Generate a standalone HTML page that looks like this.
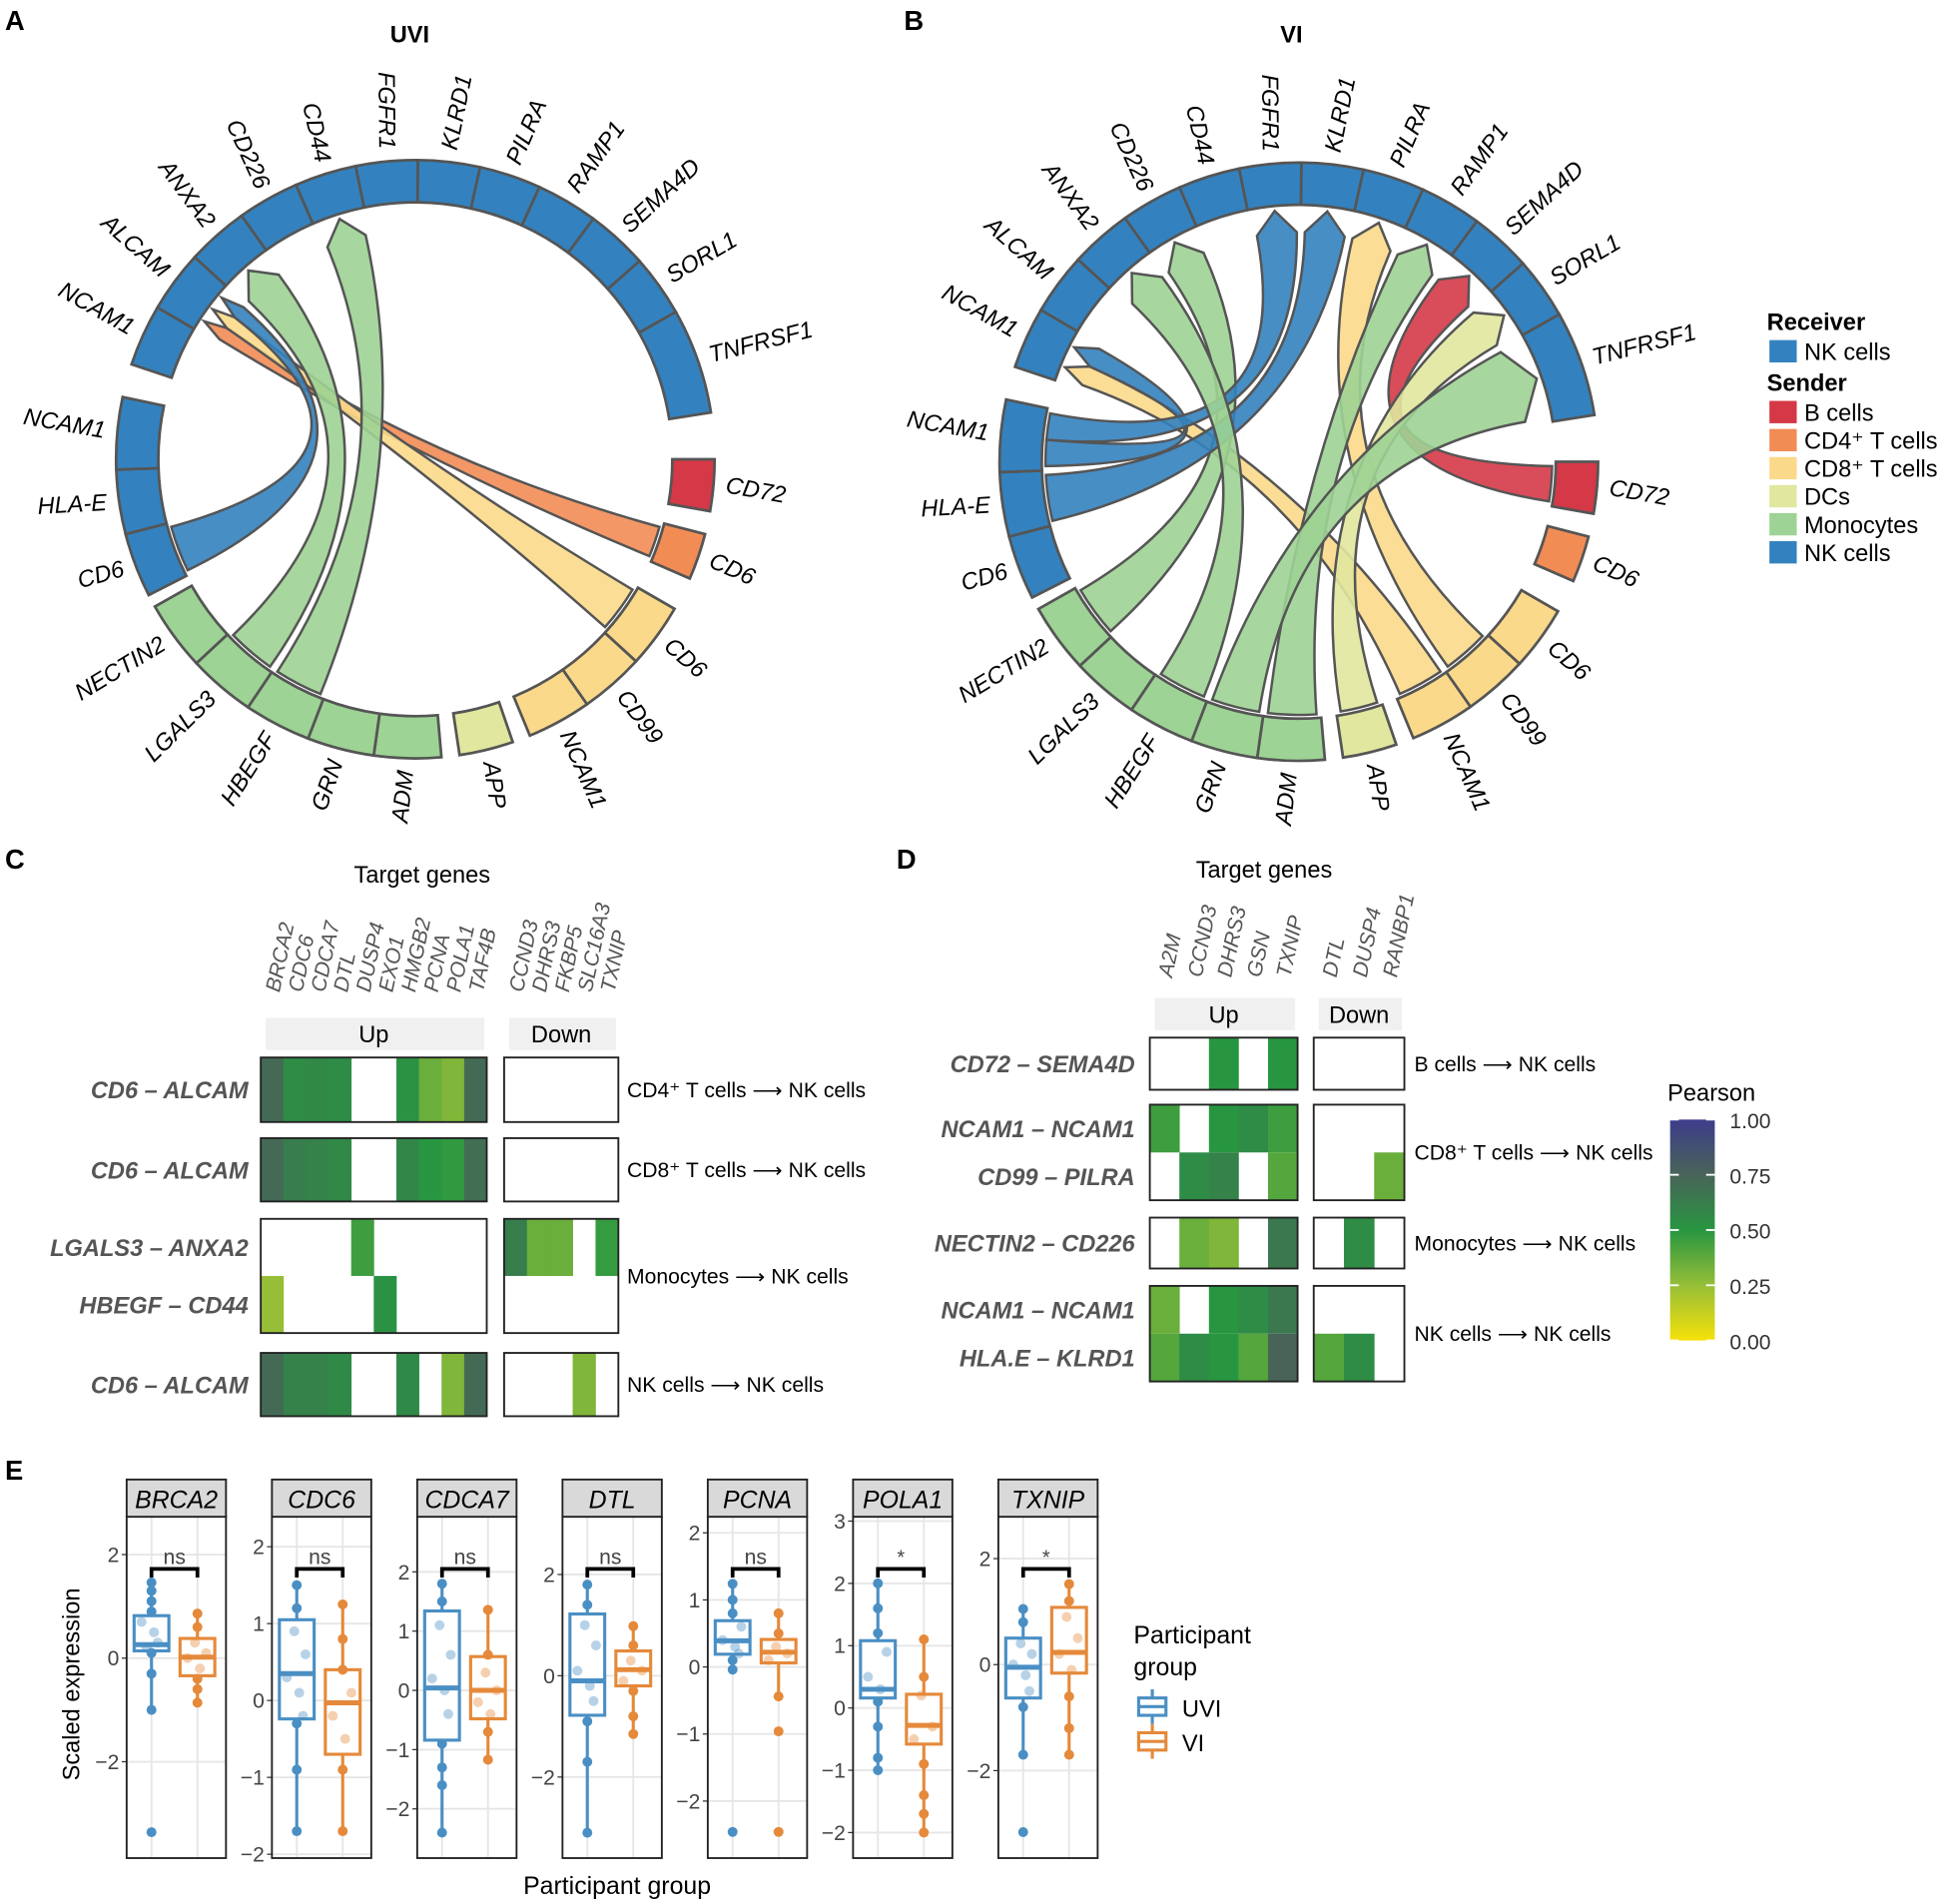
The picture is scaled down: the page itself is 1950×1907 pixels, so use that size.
<!DOCTYPE html>
<html><head><meta charset="utf-8"><style>
html,body{margin:0;padding:0;background:#fff}
svg{display:block;font-family:"Liberation Sans",Arial,sans-serif}
</style></head><body>
<svg id="fig" xmlns="http://www.w3.org/2000/svg" width="1950" height="1907" viewBox="0 0 1568 1534" preserveAspectRatio="none">
<rect width="1568" height="1534" fill="#fff"/>
<g font-weight="bold" font-size="22" fill="#000">
<text x="4" y="24">A</text>
<text x="728" y="24">B</text>
<text x="4" y="700">C</text>
<text x="722" y="700">D</text>
<text x="4" y="1192">E</text>
</g>
<text x="330" y="34" font-size="19" font-weight="bold" text-anchor="middle">UVI</text>
<text x="1040" y="34" font-size="19" font-weight="bold" text-anchor="middle">VI</text>
<g id="chordA"></g>
<g id="chordB"></g>
<g id="legend"></g>
<g id="heatC"></g>
<g id="heatD"></g>
<g id="colorbar"></g>
<g id="boxE"></g>
</svg>
<script>
// ---------- chord data ----------
const segNames=["NCAM1","ALCAM","ANXA2","CD226","CD44","FGFR1","KLRD1","PILRA","RAMP1","SEMA4D","SORL1","TNFRSF1","CD72","CD6","CD6","CD99","NCAM1","APP","ADM","GRN","HBEGF","LGALS3","NECTIN2","CD6","HLA-E","NCAM1"];
const segCell=["NK","NK","NK","NK","NK","NK","NK","NK","NK","NK","NK","NK","B","CD4","CD8","CD8","CD8","DC","Mono","Mono","Mono","Mono","Mono","NK","NK","NK"];
const cellColor={NK:"#3382bf",B:"#d53847",CD4:"#f28c55",CD8:"#fbd98a",DC:"#e1e79e",Mono:"#9dd394"};
const segA0=[-71.5,-59.5,-47.5,-35.5,-23.5,-11.5,0.5,12.5,24.5,36.5,48.5,60.5, 90,104.5, 120,132.5,145, 161, 175,188,201,214,227, 243,255.5,268];
const segA1=[-59.5,-47.5,-35.5,-23.5,-11.5,0.5,12.5,24.5,36.5,48.5,60.5,81, 100,113.5, 132.5,145,157.5, 171.5, 188,201,214,227,240.5, 255.5,268,282];
// chords: sender segment index -> receiver segment index
const chordsA_from=[13,14,23,21,20];
const chordsA_to=[1,1,1,2,4];
const chordsB_from=[12,16,15,22,25,24,25,17,18,19,20];
const chordsB_to=[9,0,7,3,0,6,5,10,8,11,2];

const NS="http://www.w3.org/2000/svg";
function mk(tag,attrs,parent){const e=document.createElementNS(NS,tag);for(const k in attrs)e.setAttribute(k,attrs[k]);if(parent)parent.appendChild(e);return e;}
function pt(cx,cy,r,a){const t=a*Math.PI/180;return [cx+r*Math.sin(t),cy-r*Math.cos(t)];}
const R0=207,R1=241;
function drawChord(gid,cx,cy,from,to){
  const g=document.getElementById(gid);
  // segments
  segNames.forEach((n,i)=>{
    const a0=segA0[i],a1=segA1[i];
    const p0=pt(cx,cy,R1,a0),p1=pt(cx,cy,R1,a1),q1=pt(cx,cy,R0,a1),q0=pt(cx,cy,R0,a0);
    const large=(a1-a0)>180?1:0;
    const s=mk("path",{d:`M${p0}A${R1},${R1} 0 ${large} 1 ${p1}L${q1}A${R0},${R0} 0 ${large} 0 ${q0}Z`,fill:cellColor[segCell[i]],stroke:"#555","stroke-width":2.2},g);
    
    
    const am=(a0+a1)/2;let an=((am%360)+360)%360;
    const lp=pt(cx,cy,R1+10,am);
    let rot,anchor;
    if(an<180){rot=an-85;anchor="start";}else{rot=an-265;anchor="end";}
    const t=mk("text",{x:lp[0],y:lp[1],"font-size":19,"font-style":"italic","text-anchor":anchor,"dominant-baseline":"middle",transform:`rotate(${rot} ${lp[0]} ${lp[1]})`},g);
    t.textContent=n;
    
    
  });
  // allocate sub-ranges
  const cnt={},used={};
  from.forEach((f,k)=>{cnt[f]=(cnt[f]||0)+1;cnt[to[k]]=(cnt[to[k]]||0)+1;});
  function slot(s){const i=used[s]||0;used[s]=i+1;const a0=segA0[s]+1,a1=segA1[s]-1;const w=(a1-a0)/cnt[s];return [a0+i*w,a0+(i+1)*w];}
  from.forEach((f,k)=>{
    const [s0,s1]=slot(f),[t0,t1]=slot(to[k]);
    const r=R0-3,rt=R0-22;
    const A0=pt(cx,cy,r,s0),A1=pt(cx,cy,r,s1),B0=pt(cx,cy,rt,t0),B1=pt(cx,cy,rt,t1),Bt=pt(cx,cy,R0-4,(t0+t1)/2);
    const c=[cx,cy];
    const d=`M${A0}A${r},${r} 0 0 1 ${A1}Q${c} ${B0}L${Bt}L${B1}Q${c} ${A0}Z`;
    const p=mk("path",{d,fill:cellColor[segCell[f]],"fill-opacity":0.9,stroke:"#555","stroke-width":2},g);
    
    
  });
}
drawChord("chordA",334.5,370,chordsA_from,chordsA_to);
drawChord("chordB",1046,372,chordsB_from,chordsB_to);

// ---------- legend ----------
const legNames=["B cells","CD4⁺ T cells","CD8⁺ T cells","DCs","Monocytes","NK cells"];
const legKeys=["B","CD4","CD8","DC","Mono","NK"];
(function(){
  const g=document.getElementById("legend");
  let t=mk("text",{x:1423,y:266,"font-size":19,"font-weight":"bold"},g);t.textContent="Receiver";
  
  mk("rect",{x:1425,y:274,width:22,height:18,fill:cellColor.NK},g);
  t=mk("text",{x:1453,y:290,"font-size":19},g);t.textContent="NK cells";
  t=mk("text",{x:1423,y:315,"font-size":19,"font-weight":"bold"},g);t.textContent="Sender";
  
  legNames.forEach((n,i)=>{
    const y=323+i*22.6;
    const r=mk("rect",{x:1425,y:y,width:22,height:18,fill:cellColor[legKeys[i]]},g);
    
    
    const tt=mk("text",{x:1453,y:y+16,"font-size":19},g);tt.textContent=n;
    
    
  });
})();

// ---------- heatmap color ----------
const cStops=[0,0.25,0.5,0.75,1];
const cCols=[[245,225,10],[150,190,55],[40,150,65],[72,100,88],[62,60,140]];
function pc(v){let i=0;while(i<3&&v>cStops[i+1])i++;const f=(v-cStops[i])/(cStops[i+1]-cStops[i]);const a=cCols[i],b=cCols[i+1];return `rgb(${a.map((x,k)=>Math.round(x+(b[k]-x)*f)).join(",")})`;}

// ---------- panel C data ----------
const cUpGenes=["BRCA2","CDC6","CDCA7","DTL","DUSP4","EXO1","HMGB2","PCNA","POLA1","TAF4B"];
const cDownGenes=["CCND3","DHRS3","FKBP5","SLC16A3","TXNIP"];
const cRowNames=["CD6 – ALCAM","CD6 – ALCAM","LGALS3 – ANXA2","HBEGF – CD44","CD6 – ALCAM"];
const cUp=[[.72,.55,.57,.55,null,null,.52,.35,.3,.72],[.72,.62,.6,.57,null,null,.58,.5,.48,.7],[null,null,null,null,.45,null,null,null,null,null],[.25,null,null,null,null,.52,null,null,null,null],[.72,.6,.6,.56,null,null,.56,null,.3,.72]];
const cDown=[[null,null,null,null,null],[null,null,null,null,null],[.62,.35,.35,null,.47],[null,null,null,null,null],[null,null,null,.3,null]];
const cGroups=[[0],[1],[2,3],[4]];
const cPairs=["CD4⁺ T cells","CD8⁺ T cells","Monocytes","NK cells"];

// ---------- panel D data ----------
const dUpGenes=["A2M","CCND3","DHRS3","GSN","TXNIP"];
const dDownGenes=["DTL","DUSP4","RANBP1"];
const dRowNames=["CD72 – SEMA4D","NCAM1 – NCAM1","CD99 – PILRA","NECTIN2 – CD226","NCAM1 – NCAM1","HLA.E – KLRD1"];
const dUp=[[null,null,.5,null,.5],[.45,null,.5,.55,.45],[null,.55,.6,null,.4],[null,.35,.3,null,.65],[.35,null,.5,.55,.65],[.4,.55,.5,.4,.75]];
const dDown=[[null,null,null],[null,null,null],[null,null,.35],[null,.55,null],[null,null,null],[.4,.55,null]];
const dGroups=[[0],[1,2],[3],[4,5]];
const dPairs=["B  cells","CD8⁺ T cells","Monocytes","NK cells"];

function drawHeat(gid,L){
  const g=document.getElementById(gid);
  let t=mk("text",{x:L.titleX,y:L.titleY,"font-size":19,"text-anchor":"middle"},g);t.textContent="Target genes";
  
  const uw=(L.up[1]-L.up[0])/L.upGenes.length,dw=(L.dn[1]-L.dn[0])/L.dnGenes.length;
  [[L.upGenes,L.up[0],uw],[L.dnGenes,L.dn[0],dw]].forEach(([gs,x0,w])=>gs.forEach((n,i)=>{
    const x=x0+w*(i+0.5)+6,y=L.gy;
    const tt=mk("text",{x,y,"font-size":17,"font-style":"italic",fill:"#555",transform:`rotate(-78 ${x} ${y})`},g);tt.textContent=n;
    
  }));
  mk("rect",{x:L.up[0]+4,y:L.sy,width:L.up[1]-L.up[0]-6,height:26,fill:"#f0f0f0"},g);
  mk("rect",{x:L.dn[0]+4,y:L.sy,width:L.dn[1]-L.dn[0]-6,height:26,fill:"#f0f0f0"},g);
  t=mk("text",{x:(L.up[0]+L.up[1])/2,y:L.sy+20,"font-size":19,"text-anchor":"middle"},g);t.textContent="Up";
  t=mk("text",{x:(L.dn[0]+L.dn[1])/2,y:L.sy+20,"font-size":19,"text-anchor":"middle"},g);t.textContent="Down";
  L.groups.forEach((grp,gi)=>{
    const [y0,y1]=L.boxY[gi];const rh=(y1-y0)/grp.length;
    grp.forEach((ri,k)=>{
      const ry=y0+k*rh;
      L.upV[ri].forEach((v,ci)=>{if(v===null)return;const r=mk("rect",{x:L.up[0]+ci*uw,y:ry,width:uw+0.3,height:rh,fill:pc(v)},g);
        });
      L.dnV[ri].forEach((v,ci)=>{if(v===null)return;const r=mk("rect",{x:L.dn[0]+ci*dw,y:ry,width:dw+0.3,height:rh,fill:pc(v)},g);
        });
      const lt=mk("text",{x:L.labX,y:ry+rh/2+7,"font-size":19,"font-weight":"bold","font-style":"italic",fill:"#555","text-anchor":"end"},g);lt.textContent=L.rows[ri];
      
    });
    mk("rect",{x:L.up[0],y:y0,width:L.up[1]-L.up[0],height:y1-y0,fill:"none",stroke:"#222","stroke-width":1.5},g);
    mk("rect",{x:L.dn[0],y:y0,width:L.dn[1]-L.dn[0],height:y1-y0,fill:"none",stroke:"#222","stroke-width":1.5},g);
    const pt2=mk("text",{x:L.pairX,y:(y0+y1)/2+6,"font-size":17},g);pt2.textContent=L.pairs[gi]+" ⟶ NK cells";
    
  });
}
drawHeat("heatC",{titleX:340,titleY:711,gy:800,sy:820,up:[210,392],dn:[406,498],upGenes:cUpGenes,dnGenes:cDownGenes,upV:cUp,dnV:cDown,rows:cRowNames,groups:cGroups,boxY:[[852,904],[917,968],[982,1074],[1090,1141]],labX:200,pairX:505,pairs:cPairs});
drawHeat("heatD",{titleX:1018,titleY:707,gy:788,sy:804,up:[926,1045],dn:[1058,1131],upGenes:dUpGenes,dnGenes:dDownGenes,upV:dUp,dnV:dDown,rows:dRowNames,groups:dGroups,boxY:[[836,878],[890,967],[981,1022],[1036,1113]],labX:914,pairX:1139,pairs:dPairs});

// colorbar
(function(){
  const g=document.getElementById("colorbar");
  const defs=mk("defs",{},g);const lg=mk("linearGradient",{id:"pg",x1:0,y1:1,x2:0,y2:0},defs);
  cStops.forEach((s,i)=>mk("stop",{offset:s,"stop-color":`rgb(${cCols[i].join(",")})`},lg));
  let t=mk("text",{x:1343,y:887,"font-size":19},g);t.textContent="Pearson";
  mk("rect",{x:1345,y:902,width:36,height:178,fill:"url(#pg)"},g);
  const cbTicks=[0,0.25,0.5,0.75,1];
  cbTicks.forEach(v=>{const y=1080-v*178;mk("line",{x1:1345,x2:1352,y1:y,y2:y,stroke:"#fff","stroke-width":1.5},g);mk("line",{x1:1374,x2:1381,y1:y,y2:y,stroke:"#fff","stroke-width":1.5},g);
    const tt=mk("text",{x:1393,y:y+7,"font-size":17,fill:"#333"},g);tt.textContent=v.toFixed(2);
    });
})();

// ---------- panel E data ----------
const eGenes=["BRCA2","CDC6","CDCA7","DTL","PCNA","POLA1","TXNIP"];
const eYMin=[-3.86,-2.05,-2.83,-3.6,-2.85,-2.41,-3.65];
const eYMax=[2.73,2.39,2.93,3.14,2.24,3.07,2.79];
const eTicks=[[-2,0,2],[-2,-1,0,1,2],[-2,-1,0,1,2],[-2,0,2],[-2,-1,0,1,2],[-2,-1,0,1,2,3],[-2,0,2]];
// [q1, median, q3, whisker low, whisker high]
const eUVI=[[0.14,0.26,0.82,-1.0,1.46],[-0.24,0.35,1.05,-1.7,1.5],[-0.84,0.04,1.34,-2.4,1.8],[-0.78,-0.1,1.22,-3.1,1.8],[0.19,0.39,0.69,-0.04,1.24],[0.16,0.3,1.08,-1.0,2.0],[-0.63,-0.05,0.5,-1.7,1.05]];
const eVI=[[-0.34,0.02,0.38,-0.86,0.86],[-0.7,-0.03,0.4,-1.7,1.25],[-0.48,0,0.0,-1.17,1.36],[-0.2,0.12,0.49,-1.15,0.98],[0.06,0.22,0.41,-0.44,0.8],[-0.58,-0.28,0.22,-2.0,1.1],[-0.16,0.23,1.08,-1.7,1.52]];
eVI[2][2]=0.57;
const eUVIpts=[[1.46,1.3,1.1,0.9,0.7,0.5,0.3,0.2,0.1,-0.3,-1.0,-3.36],[1.5,1.2,0.9,0.6,0.3,0.1,-0.2,-0.3,-0.9,-1.7],[1.8,1.5,1.1,0.6,0.2,0,-0.4,-0.9,-1.3,-1.6,-2.4],[1.8,1.4,1.0,0.6,0.1,-0.2,-0.5,-0.9,-1.7,-3.1],[1.24,1.0,0.8,0.6,0.4,0.3,0.2,0.1,-0.04,-2.46],[2.0,1.6,1.2,0.9,0.5,0.3,0.1,-0.3,-0.8,-1.0],[1.05,0.8,0.4,0.2,0,-0.2,-0.5,-0.8,-1.7,-3.16]];
const eVIpts=[[0.86,0.6,0.3,0.1,0,-0.2,-0.4,-0.6,-0.86],[1.25,0.8,0.4,0.1,-0.2,-0.5,-0.9,-1.7],[1.36,0.6,0.3,0,-0.2,-0.4,-0.7,-1.17],[0.98,0.6,0.3,0.1,-0.1,-0.3,-0.8,-1.15],[0.8,0.5,0.3,0.2,0.1,-0.44,-0.96,-2.46],[1.1,0.5,0.2,-0.3,-0.5,-0.9,-1.4,-1.7,-2.0],[1.52,1.2,0.9,0.5,0.2,-0.1,-0.6,-1.2,-1.7]];
const eSig=["ns","ns","ns","ns","ns","*","*"];

(function(){
  const g=document.getElementById("boxE");
  const px0=[102,219,336,453,570,687,804],W=80,PT=1222,PB=1497;
  const cU="#4a8fc4",cV="#e5893a";
  const jit=[-6,4,-2,7,-8,2,5,-4,8,-1,3,-7];
  eGenes.forEach((gn,i)=>{
    const x0=px0[i];
    const ys=v=>PB-(v-eYMin[i])/(eYMax[i]-eYMin[i])*(PB-PT);
    const xu=x0+20,xv=x0+57;
    mk("rect",{x:x0,y:PT,width:W,height:PB-PT,fill:"#fff"},g);
    eTicks[i].forEach(v=>{const y=ys(v);mk("line",{x1:x0,x2:x0+W,y1:y,y2:y,stroke:"#e6e6e6","stroke-width":1.5},g);
      mk("line",{x1:x0-4,x2:x0,y1:y,y2:y,stroke:"#333"},g);
      const tt=mk("text",{x:x0-6,y:y+6,"font-size":17,fill:"#444","text-anchor":"end"},g);tt.textContent=v<0?"−"+(-v):String(v);
      });
    [xu,xv].forEach(x=>mk("line",{x1:x,x2:x,y1:PT,y2:PB,stroke:"#e6e6e6","stroke-width":1.5},g));
    [[eUVI[i],eUVIpts[i],xu,cU,"uvi"],[eVI[i],eVIpts[i],xv,cV,"vi"]].forEach(([s,pts,x,c,nm])=>{
      mk("line",{x1:x,x2:x,y1:ys(s[4]),y2:ys(s[2]),stroke:c,"stroke-width":2.5},g);
      mk("line",{x1:x,x2:x,y1:ys(s[0]),y2:ys(s[3]),stroke:c,"stroke-width":2.5},g);
      const b=mk("rect",{x:x-14,y:ys(s[2]),width:28,height:ys(s[0])-ys(s[2]),fill:"#fff",stroke:c,"stroke-width":2.5},g);
      
      mk("line",{x1:x-14,x2:x+14,y1:ys(s[1]),y2:ys(s[1]),stroke:c,"stroke-width":4},g);
      pts.forEach((v,k)=>{const inBox=v>s[0]&&v<s[2];
        const d=mk("circle",{cx:x+(inBox?jit[k%12]:0),cy:ys(v),r:4,fill:c,"fill-opacity":inBox?0.4:1},g);
        });
    });
    const by=PT+42;
    mk("path",{d:`M${xu},${by+7}V${by}H${xv}V${by+7}`,fill:"none",stroke:"#000","stroke-width":3},g);
    const st=mk("text",{x:(xu+xv)/2,y:by-4,"font-size":eSig[i]==="*"?16:17,fill:"#444","text-anchor":"middle"},g);st.textContent=eSig[i];
    
    mk("rect",{x:x0,y:PT,width:W,height:PB-PT,fill:"none",stroke:"#222","stroke-width":1.5},g);
    mk("rect",{x:x0,y:1192,width:W,height:30,fill:"#d9d9d9",stroke:"#222","stroke-width":1.5},g);
    const ht=mk("text",{x:x0+W/2,y:1215,"font-size":20,"font-style":"italic","text-anchor":"middle"},g);ht.textContent=gn;
    
  });
  let t=mk("text",{x:64,y:1357,"font-size":19,"text-anchor":"middle",transform:"rotate(-90 64 1357)"},g);t.textContent="Scaled expression";
  
  t=mk("text",{x:497,y:1526,"font-size":20,"text-anchor":"middle"},g);t.textContent="Participant group";
  
  t=mk("text",{x:913,y:1324,"font-size":20},g);t.textContent="Participant";
  t=mk("text",{x:913,y:1350,"font-size":20},g);t.textContent="group";
  [["UVI",cU,1377],["VI",cV,1405]].forEach(([n,c,y])=>{
    mk("rect",{x:917,y:y-9,width:22,height:14,fill:"#fff",stroke:c,"stroke-width":2.5},g);
    mk("line",{x1:917,x2:939,y1:y-2,y2:y-2,stroke:c,"stroke-width":2.5},g);
    mk("line",{x1:928,x2:928,y1:y-16,y2:y-9,stroke:c,"stroke-width":2.5},g);
    mk("line",{x1:928,x2:928,y1:y+5,y2:y+12,stroke:c,"stroke-width":2.5},g);
    const tt=mk("text",{x:952,y:y+6,"font-size":19},g);tt.textContent=n;
    
  });
})();
</script>
</body></html>
